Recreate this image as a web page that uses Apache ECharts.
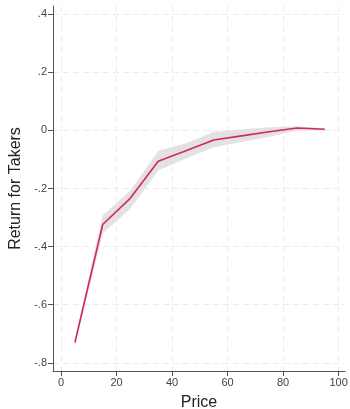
<!DOCTYPE html>
<html><head><meta charset="utf-8">
<script src="https://cdn.jsdelivr.net/npm/echarts@6/dist/echarts.min.js"></script>
<style>html,body{margin:0;padding:0;background:#fff}#c{width:350px;height:409px}</style>
</head><body><div id="c"></div>
<script>
const prices = [5, 15, 25, 35, 45, 55, 65, 75, 85, 95];
const returns = [-0.730, -0.324, -0.233, -0.106, -0.070, -0.033, -0.019, -0.005, 0.008, 0.004];
const ciLower = [-0.740, -0.355, -0.269, -0.138, -0.097, -0.058, -0.040, -0.022, 0.000, 0.001];
const ciUpper = [-0.720, -0.293, -0.207, -0.071, -0.044, -0.006, 0.004, 0.011, 0.014, 0.007];
const xTicks = [0, 20, 40, 60, 80, 100];
const yTicks = [-0.8, -0.6, -0.4, -0.2, 0, 0.2, 0.4];

function fmt(v){
  if (Math.abs(v) < 1e-9) return '0';
  let s = (Math.round(v*10)/10).toString();
  return s.replace('0.', '.');
}
const chart = echarts.init(document.getElementById('c'), null, {renderer:'canvas'});
const ff = 'Liberation Sans, Arial, sans-serif';
const bandData = prices.map((p,i)=>[p,ciLower[i],ciUpper[i]]);
chart.setOption({
  animation:false,
  backgroundColor:'#fff',
  grid:{left:53,right:5,top:6,bottom:38,containLabel:false,outerBoundsMode:'none'},
  xAxis:{
    type:'value', min:-2.9, max:102.3,
    name:'Price', nameLocation:'middle', nameGap:24,
    nameTextStyle:{fontFamily:ff,fontSize:16,color:'#222'},
    axisLine:{show:true,onZero:false,lineStyle:{color:'#555',width:1}},
    axisTick:{show:true,length:5,customValues:xTicks,lineStyle:{color:'#555'}},
    axisLabel:{customValues:xTicks,fontFamily:ff,fontSize:11,color:'#444',margin:6,formatter:v=>String(v)},
    splitLine:{show:true,lineStyle:{color:'#ececec',type:[6,4],width:1}}
  },
  yAxis:{
    type:'value', min:-0.828, max:0.428,
    name:'Return for Takers', nameLocation:'middle', nameGap:29,
    nameTextStyle:{fontFamily:ff,fontSize:16,color:'#222'},
    axisLine:{show:true,onZero:false,lineStyle:{color:'#555',width:1}},
    axisTick:{show:true,length:5,customValues:yTicks,lineStyle:{color:'#555'}},
    axisLabel:{customValues:yTicks,fontFamily:ff,fontSize:11,color:'#444',margin:6,formatter:fmt},
    splitLine:{show:true,lineStyle:{color:'#ececec',type:[6,4],width:1}}
  },
  series:[
    {type:'custom', silent:true, data:bandData, encode:{x:0,y:[1,2]},
     renderItem:function(params, api){
       if (params.dataIndex !== 0) return null;
       const up = [], lo = [];
       for (let i=0;i<bandData.length;i++){
         up.push(api.coord([bandData[i][0], bandData[i][2]]));
         lo.push(api.coord([bandData[i][0], bandData[i][1]]));
       }
       return {type:'polygon', shape:{points: up.concat(lo.reverse())},
               style:{fill:'#e2e2e2', stroke:'none'}};
     }},
    {type:'line',data:prices.map((p,i)=>[p,returns[i]]),symbol:'none',
     lineStyle:{color:'#d6265f',width:1.6}}
  ]
});
</script></body></html>
